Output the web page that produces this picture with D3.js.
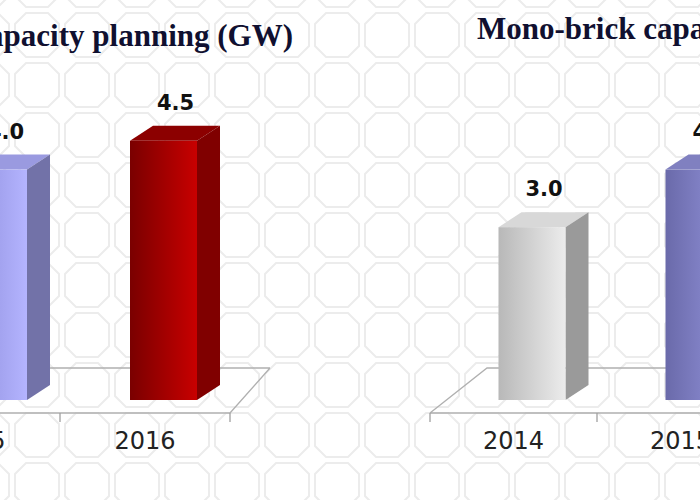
<!DOCTYPE html>
<html><head><meta charset="utf-8">
<script src="https://cdn.jsdelivr.net/npm/d3@7"></script>
<style>body{margin:0;background:#fff}</style>
</head><body>
<script>
// chart data
var leftYears = ["2015", "2016"];
var leftValues = [4.0, 4.5];
var rightYears = ["2014", "2015"];
var rightValues = [3.0, 4.0];

var svg = d3.select("body").append("svg").attr("width", 700).attr("height", 500);
var defs = svg.append("defs");

// octagon background pattern
var pat = defs.append("pattern").attr("id", "oct").attr("patternUnits", "userSpaceOnUse")
  .attr("width", 50).attr("height", 50).attr("x", 12).attr("y", 10);
pat.append("path").attr("d", "M14,3 L36,3 L47,14 L47,36 L36,47 L14,47 L3,36 L3,14 Z")
  .attr("fill", "none").attr("stroke", "#ececec").attr("stroke-width", 2);
svg.append("rect").attr("width", 700).attr("height", 500).attr("fill", "url(#oct)");

function grad(id, a, b) {
  var g = defs.append("linearGradient").attr("id", id);
  g.append("stop").attr("offset", "0%").attr("stop-color", a);
  g.append("stop").attr("offset", "100%").attr("stop-color", b);
}
grad("gLav", "#8a8ad8", "#b4b4ff");
grad("gRed", "#7a0000", "#c80000");
grad("gGray", "#b8b8b8", "#ececec");
grad("gPur", "#6a6aaa", "#9494dc");

var y = d3.scaleLinear().domain([0, 5]).range([400, 112]);
var dx = 23, dy = -15;

function chart(x0, x1, years, values, styles) {
  var x = d3.scaleBand().domain(years).range([x0, x1]);
  var g = svg.append("g");
  var fl = 413, bk = 368;
  // floor
  g.append("path").attr("fill", "none").attr("stroke", "#b0b0b0").attr("stroke-width", 1.3)
    .attr("d", "M" + x0 + "," + fl + " L" + x1 + "," + fl + " M" + x0 + "," + fl +
      " L" + (x0 + 57) + "," + bk + " L" + (x1 + 40) + "," + bk +
      " M" + x1 + "," + fl + " L" + (x1 + 40) + "," + bk);
  g.selectAll(".tk").data(years.concat(["_end"])).enter().append("line")
    .attr("x1", function (d, i) { return x0 + i * x.bandwidth(); })
    .attr("x2", function (d, i) { return x0 + i * x.bandwidth(); })
    .attr("y1", fl).attr("y2", fl + 9).attr("stroke", "#a0a0a0").attr("stroke-width", 1.3);
  years.forEach(function (yr, i) {
    var s = styles[i];
    var bx = x(yr) + x.bandwidth() / 2 - 15, w = 67;
    var top = y(values[i]), bot = y(0);
    g.append("path").attr("fill", s[2])
      .attr("d", "M" + bx + "," + top + " L" + (bx + dx) + "," + (top + dy) + " L" + (bx + w + dx) + "," + (top + dy) + " L" + (bx + w) + "," + top + "Z");
    g.append("path").attr("fill", s[1])
      .attr("d", "M" + (bx + w) + "," + top + " L" + (bx + w + dx) + "," + (top + dy) + " L" + (bx + w + dx) + "," + (bot + dy) + " L" + (bx + w) + "," + bot + "Z");
    g.append("rect").attr("x", bx).attr("y", top).attr("width", w).attr("height", bot - top).attr("fill", s[0]);
    g.append("text").attr("x", bx + w / 2 + 12).attr("y", top - 31).attr("text-anchor", "middle")
      .attr("font-family", "DejaVu Sans").attr("font-weight", "bold").attr("font-size", 21)
      .attr("fill", "#111").text(values[i].toFixed(1));
    g.append("text").attr("x", x(yr) + x.bandwidth() / 2).attr("y", 449).attr("text-anchor", "middle")
      .attr("font-family", "DejaVu Sans").attr("font-size", 24).attr("fill", "#222").text(yr);
  });
}

chart(-110, 230, leftYears, leftValues,
  [["url(#gLav)", "#7272a8", "#9a9ae0"], ["url(#gRed)", "#800000", "#8c0000"]]);
chart(430, 764, rightYears, rightValues,
  [["url(#gGray)", "#9a9a9a", "#d8d8d8"], ["url(#gPur)", "#5a5a90", "#8080c0"]]);

svg.append("text").attr("x", 293).attr("y", 46).attr("text-anchor", "end")
  .attr("font-family", "Liberation Serif").attr("font-weight", "bold").attr("font-size", 31)
  .attr("fill", "#101030").text("Capacity planning (GW)");
svg.append("text").attr("x", 477).attr("y", 39)
  .attr("font-family", "Liberation Serif").attr("font-weight", "bold").attr("font-size", 31)
  .attr("fill", "#101030").text("Mono-brick capacity (GW)");
</script>
</body></html>
